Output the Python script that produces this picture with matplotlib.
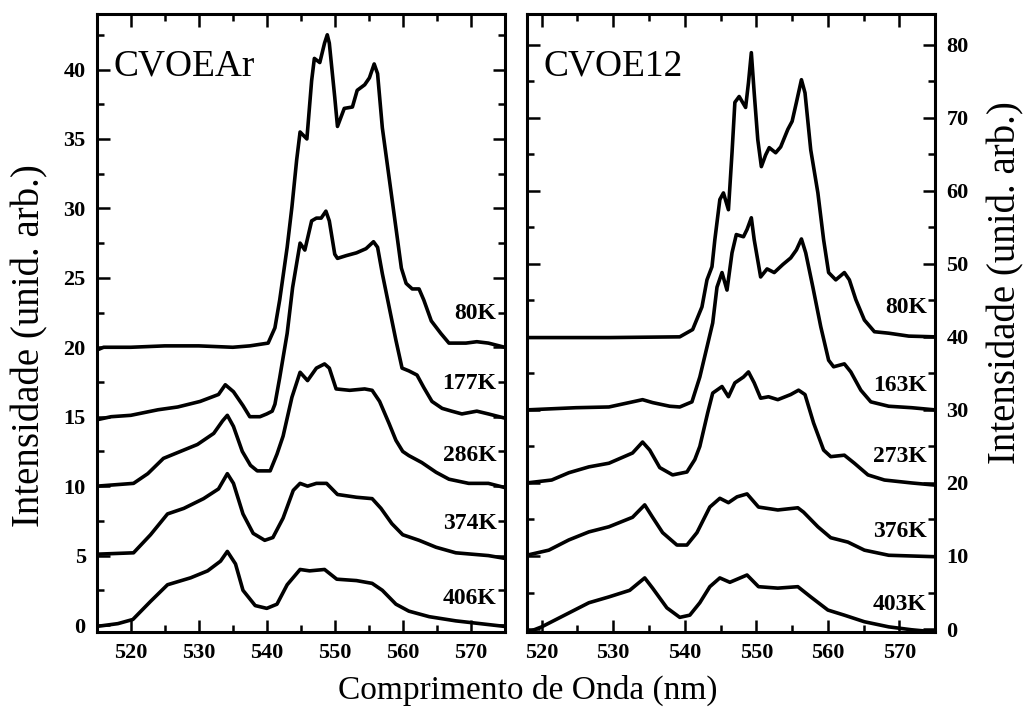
import matplotlib
matplotlib.use('Agg')
import matplotlib.pyplot as plt
import numpy as np
from matplotlib.ticker import MultipleLocator

# (wavelength nm, intensity), offsets already included
ar_80K = [(515.0, 19.8), (516.0, 20.0), (520.0, 20.0), (525.0, 20.1), (530.0, 20.1),
          (535.0, 20.0), (537.5, 20.1), (540.2, 20.3), (541.2, 21.4), (541.9, 23.4),
          (543.0, 27.2), (543.7, 30.1), (544.4, 33.5), (544.9, 35.5), (545.3, 35.3),
          (545.9, 35.0), (546.6, 39.2), (547.0, 40.8), (547.8, 40.5), (548.5, 41.9),
          (548.9, 42.5), (549.2, 41.9), (550.0, 38.0), (550.4, 35.9), (551.4, 37.2),
          (552.6, 37.3), (553.3, 38.5), (554.4, 38.9), (555.1, 39.4), (555.8, 40.4),
          (556.3, 39.7), (557.0, 35.8), (558.0, 32.2), (559.0, 28.6), (559.8, 25.7),
          (560.5, 24.6), (561.4, 24.2), (562.4, 24.2), (563.1, 23.4), (564.2, 21.9),
          (565.6, 21.0), (566.8, 20.3), (568.0, 20.3), (569.3, 20.3), (570.9, 20.4),
          (572.6, 20.3), (575.0, 20.0)]
ar_177K = [(515.2, 14.8), (517.1, 15.0), (520.0, 15.1), (524.0, 15.5), (526.9, 15.7),
           (530.2, 16.1), (532.9, 16.6), (533.9, 17.3), (535.1, 16.8), (536.5, 15.8),
           (537.5, 15.0), (539.0, 15.0), (540.0, 15.2), (540.8, 15.4), (541.2, 15.9),
           (541.9, 17.8), (543.0, 21.0), (543.8, 24.3), (544.9, 27.5), (545.6, 27.0),
           (546.6, 29.1), (547.3, 29.3), (548.0, 29.3), (548.7, 29.8), (549.2, 29.1),
           (550.0, 26.7), (550.4, 26.4), (551.7, 26.6), (553.2, 26.8), (554.6, 27.1),
           (555.7, 27.6), (556.3, 27.2), (557.0, 25.3), (558.0, 22.9), (559.0, 20.5),
           (559.9, 18.5), (560.9, 18.3), (562.1, 18.0), (563.1, 17.1), (564.3, 16.1),
           (565.8, 15.6), (567.2, 15.4), (568.7, 15.2), (570.9, 15.4), (572.6, 15.2),
           (575.0, 14.9)]
ar_286K = [(515.0, 10.0), (520.4, 10.2), (522.5, 10.9), (524.8, 12.0), (527.3, 12.5),
           (529.8, 13.0), (532.2, 13.8), (533.5, 14.7), (534.2, 15.1), (535.1, 14.3),
           (536.4, 12.5), (537.6, 11.5), (538.6, 11.1), (540.5, 11.1), (541.5, 12.3),
           (542.4, 13.6), (543.7, 16.4), (544.9, 18.2), (546.0, 17.6), (547.3, 18.5),
           (548.5, 18.8), (549.2, 18.5), (550.2, 17.0), (552.2, 16.9), (554.4, 17.0),
           (555.5, 16.9), (556.6, 16.1), (558.0, 14.5), (559.0, 13.3), (560.0, 12.5),
           (560.9, 12.2), (562.8, 11.7), (564.9, 11.0), (566.8, 10.5), (569.7, 10.2),
           (572.6, 10.2), (575.0, 9.9)]
ar_374K = [(515.0, 5.1), (520.4, 5.2), (522.9, 6.5), (525.4, 8.0), (527.8, 8.4),
           (530.7, 9.1), (532.9, 9.8), (534.2, 10.9), (535.1, 10.2), (536.5, 8.0),
           (538.0, 6.6), (539.7, 6.1), (540.9, 6.3), (542.4, 7.7), (543.9, 9.7),
           (544.9, 10.2), (546.0, 10.0), (547.3, 10.2), (548.8, 10.2), (550.4, 9.4),
           (553.2, 9.2), (555.5, 9.1), (556.8, 8.4), (558.4, 7.3), (560.0, 6.5),
           (562.4, 6.1), (564.9, 5.6), (567.8, 5.2), (572.6, 5.0), (575.0, 4.8)]
ar_406K = [(515.0, -0.1), (518.1, 0.1), (520.3, 0.4), (522.9, 1.7), (525.4, 2.9),
           (528.8, 3.4), (531.3, 3.9), (533.2, 4.6), (534.2, 5.3), (535.4, 4.4),
           (536.5, 2.5), (538.3, 1.4), (540.0, 1.2), (541.5, 1.5), (543.0, 2.9),
           (544.9, 4.0), (546.3, 3.9), (548.5, 4.0), (550.3, 3.3), (553.2, 3.2),
           (555.5, 3.0), (557.0, 2.5), (559.0, 1.5), (560.9, 1.0), (563.9, 0.6),
           (567.8, 0.3), (575.0, -0.1)]

e12_80K = [(517.9, 39.9), (529.4, 39.9), (539.3, 40.0), (541.1, 41.0), (542.4, 44.1),
           (543.1, 47.8), (543.8, 49.6), (544.2, 53.3), (544.9, 58.8), (545.4, 59.7),
           (546.1, 57.4), (546.6, 65.2), (547.0, 72.1), (547.6, 72.9), (548.5, 71.4),
           (548.9, 74.8), (549.3, 78.9), (549.7, 73.4), (550.2, 67.0), (550.7, 63.3),
           (551.3, 64.9), (551.8, 65.9), (552.7, 65.2), (553.4, 66.0), (554.4, 68.4),
           (555.0, 69.5), (555.6, 72.1), (556.3, 75.2), (556.8, 73.4), (557.6, 65.6),
           (558.6, 59.7), (559.4, 53.3), (560.1, 48.8), (561.1, 47.8), (562.3, 48.8),
           (563.0, 47.8), (563.9, 45.1), (565.1, 42.3), (566.5, 40.7), (568.5, 40.5),
           (571.3, 40.1), (575.0, 40.0)]
e12_163K = [(517.9, 30.0), (524.8, 30.3), (529.4, 30.4), (532.7, 31.1), (534.1, 31.4),
            (535.5, 31.0), (537.9, 30.5), (539.3, 30.4), (541.0, 31.1), (542.1, 34.5),
            (543.1, 38.6), (543.9, 41.9), (544.5, 46.8), (545.2, 48.8), (545.9, 46.4),
            (546.6, 51.5), (547.2, 54.0), (548.2, 53.7), (548.7, 54.7), (549.3, 56.3),
            (549.7, 53.3), (550.6, 48.2), (551.5, 49.3), (552.5, 48.8), (553.7, 49.9),
            (554.8, 50.8), (555.6, 51.9), (556.3, 53.4), (556.9, 51.5), (557.9, 46.8),
            (559.0, 41.4), (560.1, 36.8), (560.8, 35.9), (562.3, 36.3), (563.2, 35.2),
            (564.6, 32.7), (566.0, 31.1), (568.5, 30.5), (571.7, 30.3), (575.0, 30.0)]
e12_273K = [(517.9, 20.0), (521.4, 20.4), (523.8, 21.4), (526.6, 22.2), (529.4, 22.7),
            (532.7, 24.1), (534.1, 25.6), (535.1, 24.5), (536.5, 22.1), (538.3, 21.1),
            (540.3, 21.5), (541.4, 23.2), (542.1, 25.0), (543.2, 29.6), (543.9, 32.3),
            (545.2, 33.2), (546.1, 31.8), (547.0, 33.7), (548.2, 34.5), (548.9, 35.2),
            (549.7, 33.7), (550.6, 31.6), (551.7, 31.8), (553.0, 31.4), (554.8, 32.1),
            (555.9, 32.7), (556.8, 32.1), (558.0, 28.2), (559.4, 24.5), (560.4, 23.6),
            (562.3, 23.8), (563.7, 22.7), (565.6, 21.1), (567.9, 20.4), (571.7, 20.0),
            (575.0, 19.7)]
e12_376K = [(517.9, 10.1), (521.0, 10.8), (523.8, 12.2), (526.6, 13.3), (529.4, 14.0),
            (532.7, 15.3), (534.4, 17.0), (535.5, 15.3), (536.9, 13.2), (538.9, 11.5),
            (540.3, 11.5), (541.7, 13.2), (543.5, 16.7), (544.9, 17.9), (546.1, 17.3),
            (547.3, 18.1), (548.7, 18.5), (550.3, 16.7), (553.0, 16.3), (555.8, 16.6),
            (556.6, 16.0), (558.6, 14.0), (560.4, 12.5), (562.8, 11.9), (565.1, 10.8),
            (568.5, 10.1), (575.0, 9.9)]
e12_403K = [(517.9, -0.5), (520.0, 0.3), (523.8, 2.2), (526.6, 3.6), (529.4, 4.4),
            (532.3, 5.3), (534.4, 7.0), (535.5, 5.6), (537.5, 2.9), (539.3, 1.6),
            (540.7, 1.9), (542.1, 3.6), (543.5, 5.8), (544.9, 7.0), (546.3, 6.4),
            (548.7, 7.4), (550.3, 5.8), (553.0, 5.6), (555.8, 5.8), (557.6, 4.4),
            (560.0, 2.6), (562.3, 1.9), (565.1, 1.0), (568.5, 0.3), (571.7, -0.1),
            (575.0, -0.4)]

ar_curves = [ar_80K, ar_177K, ar_286K, ar_374K, ar_406K]
ar_temps = ['80K', '177K', '286K', '374K', '406K']
ar_label_y = [22.4, 17.4, 12.2, 7.3, 1.9]

e12_curves = [e12_80K, e12_163K, e12_273K, e12_376K, e12_403K]
e12_temps = ['80K', '163K', '273K', '376K', '403K']
e12_label_y = [44.0, 33.4, 23.6, 13.3, 3.3]

plt.rcParams['font.family'] = ['Liberation Serif', 'DejaVu Serif']
plt.rcParams['font.weight'] = 'bold'


def style_axes(ax, ymajor, yminor):
    ax.xaxis.set_major_locator(MultipleLocator(10))
    ax.xaxis.set_minor_locator(MultipleLocator(5))
    ax.yaxis.set_major_locator(MultipleLocator(ymajor))
    ax.yaxis.set_minor_locator(MultipleLocator(yminor))
    ax.tick_params(which='both', direction='in', top=True, right=True, left=True,
                   width=1.8, labelsize=16, pad=8)
    ax.tick_params(which='major', length=9)
    ax.tick_params(which='minor', length=5)
    for s in ax.spines.values():
        s.set_linewidth(2.2)


def draw_panel(ax, curves, temps, label_y, name):
    for pts, t, ly in zip(curves, temps, label_y):
        wl, inten = np.array(pts).T
        ax.plot(wl, inten, color='black', lw=2.6, solid_joinstyle='round')
        ax.text(573.8, ly, t, ha='right', va='center', fontsize=17)
    ax.text(0.04, 0.915, name, transform=ax.transAxes, fontsize=27,
            fontweight='normal', ha='left', va='center')


fig = plt.figure(figsize=(10.3, 7.12), dpi=100)
ax1 = fig.add_axes([0.094, 0.1124, 0.396, 0.868])
ax2 = fig.add_axes([0.512, 0.1124, 0.396, 0.868])

draw_panel(ax1, ar_curves, ar_temps, ar_label_y, 'CVOEAr')
ax1.set_xlim(515, 575)
ax1.set_ylim(-0.5, 44)
style_axes(ax1, 5, 2.5)
ax1.set_ylabel('Intensidade (unid. arb.)', fontsize=28, fontweight='normal')
ax1.yaxis.set_label_coords(-0.118, 0.464)

draw_panel(ax2, e12_curves, e12_temps, e12_label_y, 'CVOE12')
ax2.set_xlim(518, 575)
ax2.set_ylim(-0.4, 84.2)
style_axes(ax2, 10, 5)
ax2.tick_params(axis='y', which='both', labelleft=False, labelright=True)
ax2.yaxis.set_label_position('right')
ax2.set_ylabel('Intensidade (unid. arb.)', fontsize=28, fontweight='normal')
ax2.yaxis.set_label_coords(1.128, 0.565)

fig.text(0.512, 0.031, 'Comprimento de Onda (nm)', ha='center', va='center',
         fontsize=24, fontweight='normal')

fig.savefig('out.png', dpi=100)
